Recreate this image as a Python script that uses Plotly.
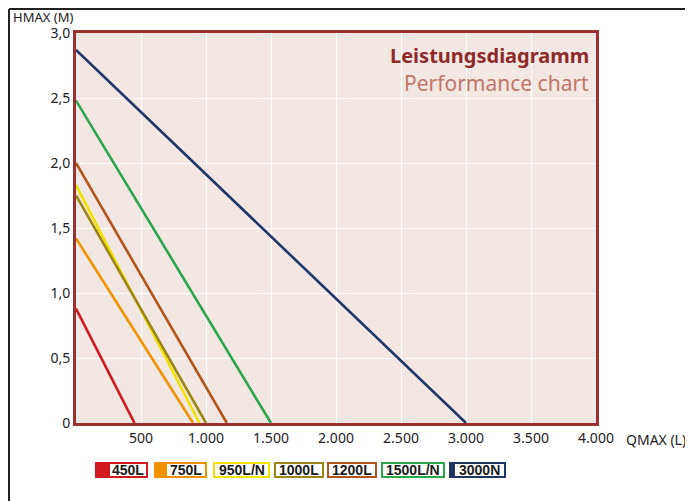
import plotly.graph_objects as go

# Data: each pump curve from (0, H) to (Q, 0)
models = ["450L", "750L", "950L/N", "1000L", "1200L", "1500L/N", "3000N"]
hmax = [0.88, 1.42, 1.83, 1.75, 2.0, 2.48, 2.87]
qmax = [450, 900, 950, 1000, 1160, 1500, 3000]
colors = ["#d2191f", "#f39200", "#f2e200", "#9c8516", "#b0561b", "#2ba54b", "#1f3665"]

x_ticks = [500, 1000, 1500, 2000, 2500, 3000, 3500, 4000]
x_ticktext = ["500", "1.000", "1.500", "2.000", "2.500", "3.000", "3.500", "4.000"]
y_ticks = [0, 0.5, 1.0, 1.5, 2.0, 2.5, 3.0]
y_ticktext = ["0", "0,5", "1,0", "1,5", "2,0", "2,5", "3,0"]

# page has an 8px body margin; figure sized to fit the window
OFF = 8
W, H = 685, 493
L, R, T, B = 76, 596, 33, 423   # plot area in page pixels

def px(x):
    return (x - L) / (R - L)

def py(y):
    return (B - y) / (B - T)

fig = go.Figure()
for m, h, q, c in zip(models, hmax, qmax, colors):
    fig.add_trace(go.Scatter(x=[0, q], y=[h, 0], mode="lines", name=m,
                             line=dict(color=c, width=2.6), showlegend=False))

FONT = "Noto Sans"
fig.update_layout(
    width=W, height=H,
    margin=dict(l=L - OFF, r=W + OFF - R, t=T - OFF, b=H + OFF - B),
    paper_bgcolor="white", plot_bgcolor="#f2e7e2",
    font=dict(family=FONT, size=14, color="#222"),
    xaxis=dict(range=[0, 4000], tickvals=x_ticks, ticktext=x_ticktext,
               showgrid=True, gridcolor="white", gridwidth=1.2, zeroline=False,
               showline=True, mirror=True, linecolor="#9b3232", linewidth=3,
               ticks="", ticklen=0, tickfont=dict(size=14, color="#222")),
    yaxis=dict(range=[0, 3], tickvals=y_ticks, ticktext=y_ticktext,
               showgrid=True, gridcolor="white", gridwidth=1.2, zeroline=False,
               showline=True, mirror=True, linecolor="#9b3232", linewidth=3,
               ticks="", tickfont=dict(size=14, color="#222")),
)

shapes = []
annotations = []

# outer black frame lines (top and left edges)
shapes.append(dict(type="line", xref="paper", yref="paper", x0=px(9), x1=px(720),
                   y0=py(9), y1=py(9), line=dict(color="#222", width=2)))
shapes.append(dict(type="line", xref="paper", yref="paper", x0=px(9), x1=px(9),
                   y0=py(9), y1=py(520), line=dict(color="#222", width=2)))

# axis titles
annotations.append(dict(text="HMAX (M)", xref="paper", yref="paper", x=px(11), y=py(17),
                        xanchor="left", yanchor="middle", showarrow=False,
                        font=dict(size=13, color="#222")))
annotations.append(dict(text="QMAX (L)", xref="paper", yref="paper", x=px(624), y=py(439),
                        xanchor="left", yanchor="middle", showarrow=False,
                        font=dict(size=14, color="#222")))

# chart titles
annotations.append(dict(text="<b>Leistungsdiagramm</b>", xref="paper", yref="paper",
                        x=px(591), y=py(55), xanchor="right", yanchor="middle",
                        showarrow=False, font=dict(size=20, color="#8e2a2a", family=FONT)))
annotations.append(dict(text="Performance chart", xref="paper", yref="paper",
                        x=px(591), y=py(83), xanchor="right", yanchor="middle",
                        showarrow=False, font=dict(size=21, color="#c07868", family=FONT)))

# legend boxes (pixel layout)
boxes = [(95, 148, 15), (154, 207, 13), (213, 270, 2), (274, 324, 2),
         (327, 377, 2), (381, 445, 2), (449, 506, 6)]
y0b, y1b = 462, 478
for (a, b, sw), m, c in zip(boxes, models, colors):
    shapes.append(dict(type="rect", xref="paper", yref="paper",
                       x0=px(a), x1=px(b), y0=py(y1b), y1=py(y0b),
                       fillcolor=c, line=dict(width=0)))
    shapes.append(dict(type="rect", xref="paper", yref="paper",
                       x0=px(a + sw), x1=px(b - 2), y0=py(y1b - 2), y1=py(y0b + 2),
                       fillcolor="white", line=dict(width=0)))
    annotations.append(dict(text="<b>" + m + "</b>", xref="paper", yref="paper",
                            x=px((a + sw + b - 2) / 2), y=py((y0b + y1b) / 2),
                            xanchor="center", yanchor="middle", showarrow=False,
                            font=dict(size=14, color="#1a1a1a", family="Liberation Sans")))

fig.update_layout(shapes=shapes, annotations=annotations)
fig.write_html("out.html")
